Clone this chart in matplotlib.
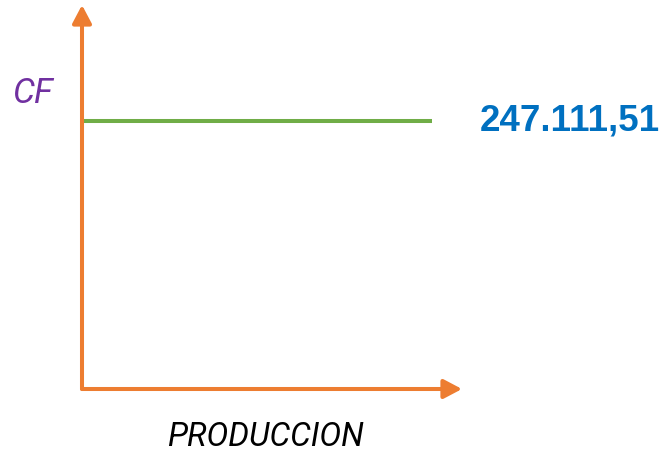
import matplotlib

matplotlib.use("Agg")
import matplotlib.pyplot as plt  # noqa: E402

# data: fixed cost (costo fijo) is constant across production
CF_VALUE = 247111.51
PRODUCTION = [0, 92]          # span of the fixed-cost line
X_MAX = 100                   # production axis length
Y_MAX = CF_VALUE * 384 / 268  # cost axis length
VALUE_LABEL = "247.111,51"
X_LABEL = "PRODUCCION"
Y_LABEL = "CF"

ORANGE = "#ED7D31"
GREEN = "#70AD47"
BLUE = "#0070C0"
PURPLE = "#7030A0"

W, H = 668, 455
fig = plt.figure(figsize=(W / 100, H / 100), dpi=100)
ax = fig.add_axes([82 / W, (H - 389) / H, (462 - 82) / W, (389 - 5) / H])
ax.set_xlim(0, X_MAX)
ax.set_ylim(0, Y_MAX)
ax.axis("off")

arrow = dict(arrowstyle="-|>,head_length=11,head_width=5.8", color=ORANGE,
             lw=2.9, mutation_scale=1, shrinkA=0, shrinkB=0)
ax.annotate("", xy=(0, Y_MAX), xytext=(0, 0), arrowprops=arrow, annotation_clip=False)
ax.annotate("", xy=(X_MAX, 0), xytext=(0, 0), arrowprops=arrow, annotation_clip=False)

ax.plot(PRODUCTION, [CF_VALUE, CF_VALUE], color=GREEN, lw=2.9, solid_capstyle="butt",
        clip_on=False)

ax.text(128.5, CF_VALUE, VALUE_LABEL, color=BLUE, fontsize=26.5, fontweight="bold",
        family="Liberation Sans", ha="center", va="center", clip_on=False)

fig.text(32 / W, 1 - 93 / H, Y_LABEL, color=PURPLE, fontsize=25, style="italic",
         family="Roboto", ha="center", va="center")
fig.text(265 / W, 1 - 437 / H, X_LABEL, color="black", fontsize=23.5, style="italic",
         family="Roboto", ha="center", va="center")

fig.savefig("out.png", dpi=100)
plt.close(fig)
